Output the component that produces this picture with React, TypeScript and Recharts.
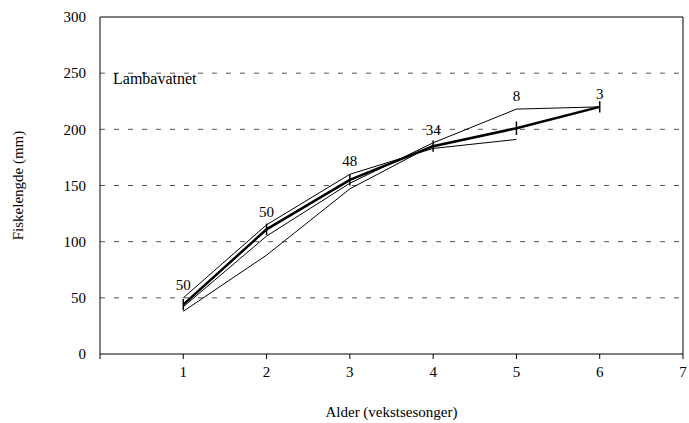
import React from "react";
import {
  ComposedChart,
  Line,
  XAxis,
  YAxis,
  CartesianGrid,
  ErrorBar,
  LabelList,
  Label,
  ReferenceLine,
} from "recharts";

const ages = [1, 2, 3, 4, 5, 6];
const meanLength = [44, 111, 155, 185, 201, 220];
const meanError = [5, 5, 5, 5, 6, 5];
const fishCount = [50, 50, 48, 34, 8, 3];
const cohortA = [50, 115, 160, 183, 191, null];
const cohortB = [42, 105, 152, 188, 218, 220];
const cohortC = [38, 88, 147, 186, null, null];
const xTicks = [0, 1, 2, 3, 4, 5, 6, 7];
const yTicks = [0, 50, 100, 150, 200, 250, 300];

const data = ages.map((age, i) => {
  const vals = [meanLength[i], cohortA[i], cohortB[i], cohortC[i]].filter(
    (v): v is number => v != null
  );
  return {
    age,
    mean: meanLength[i],
    err: meanError[i],
    n: fishCount[i],
    a: cohortA[i],
    b: cohortB[i],
    c: cohortC[i],
    top: Math.max(...vals),
  };
});

const font = "'Times New Roman', 'Liberation Serif', 'DejaVu Serif', serif";
const txt = { fontSize: 15, fill: "#000", fontFamily: font };

export default function App() {
  return (
    <div
      style={{
        position: "absolute",
        left: 0,
        top: 0,
        width: 689,
        height: 423,
        background: "#fff",
        fontFamily: font,
      }}
    >
      <ComposedChart
        width={689}
        height={423}
        data={data}
        margin={{ top: 17, right: 6, bottom: 6, left: 30 }}
        style={{ fontFamily: font }}
      >
        <CartesianGrid
          horizontal
          vertical={false}
          stroke="#555"
          strokeDasharray="5 9"
          horizontalValues={[50, 100, 150, 200, 250]}
        />
        <XAxis
          dataKey="age"
          type="number"
          domain={[0, 7]}
          ticks={xTicks}
          tickFormatter={(v) => (v === 0 ? "" : String(v))}
          stroke="#000"
          tick={txt}
          tickSize={5}
          tickMargin={7}
          height={63}
        >
          <Label value="Alder (vekstsesonger)" position="insideBottom" offset={0} style={txt} />
        </XAxis>
        <YAxis
          type="number"
          domain={[0, 300]}
          ticks={yTicks}
          stroke="#000"
          tick={txt}
          tickLine={false}
          tickMargin={8}
          width={70}
        >
          <Label
            value="Fiskelengde (mm)"
            angle={-90}
            position="insideLeft"
            offset={-12}
            style={{ ...txt, textAnchor: "middle" }}
          />
        </YAxis>
        <ReferenceLine y={300} stroke="#000" />
        <ReferenceLine x={7} stroke="#000" />
        <Line dataKey="a" stroke="#000" strokeWidth={1} dot={false} isAnimationActive={false} />
        <Line dataKey="b" stroke="#000" strokeWidth={1} dot={false} isAnimationActive={false} />
        <Line dataKey="c" stroke="#000" strokeWidth={1} dot={false} isAnimationActive={false} />
        <Line dataKey="mean" stroke="#000" strokeWidth={2.5} dot={false} isAnimationActive={false}>
          <ErrorBar dataKey="err" width={0} stroke="#000" strokeWidth={1.5} direction="y" />
        </Line>
        <Line dataKey="top" stroke="none" dot={false} activeDot={false} isAnimationActive={false}>
          <LabelList dataKey="n" position="top" offset={8} style={txt} />
        </Line>
      </ComposedChart>
      <div
        style={{
          position: "absolute",
          left: 113,
          top: 70,
          fontSize: 16,
          fontFamily: font,
          color: "#000",
        }}
      >
        Lambavatnet
      </div>
    </div>
  );
}
